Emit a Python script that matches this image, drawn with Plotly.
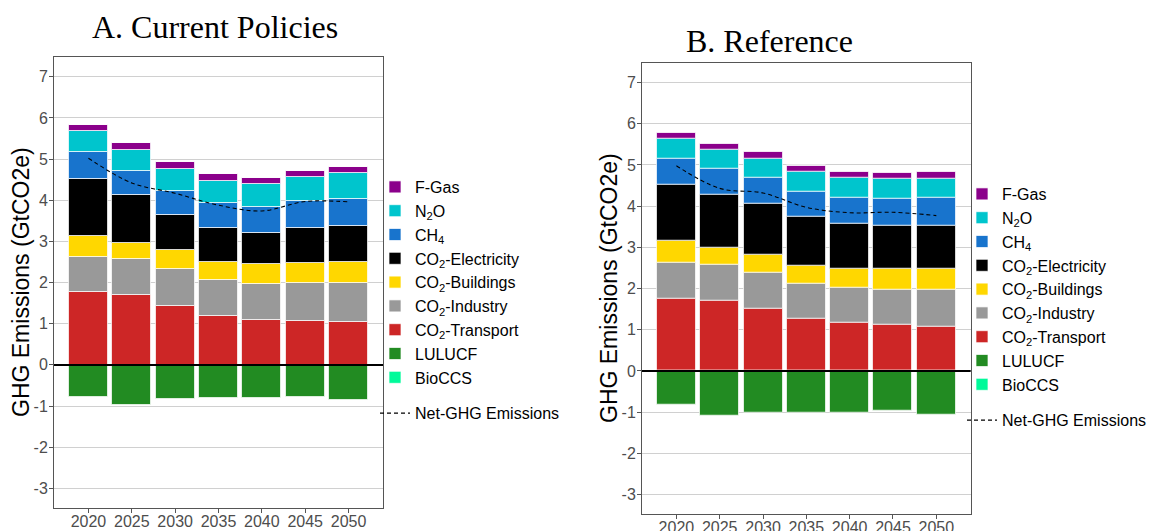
import plotly.graph_objects as go

years = [2020, 2025, 2030, 2035, 2040, 2045, 2050]
y_tickvals = [-3, -2, -1, 0, 1, 2, 3, 4, 5, 6, 7]
y_ticktext = ["-3", "-2", "-1", "0", "1", "2", "3", "4", "5", "6", "7"]

series_names = ["CO<sub>2</sub>-Transport", "CO<sub>2</sub>-Industry", "CO<sub>2</sub>-Buildings",
                "CO<sub>2</sub>-Electricity", "CH<sub>4</sub>", "N<sub>2</sub>O", "F-Gas",
                "LULUCF", "BioCCS"]
net_name = "Net-GHG Emissions"

# Panel A: Current Policies (GtCO2e)
a_transport = [1.76, 1.69, 1.44, 1.19, 1.08, 1.06, 1.04]
a_industry = [0.87, 0.88, 0.88, 0.87, 0.88, 0.92, 0.94]
a_buildings = [0.51, 0.40, 0.46, 0.44, 0.50, 0.50, 0.52]
a_electricity = [1.37, 1.16, 0.87, 0.83, 0.75, 0.85, 0.88]
a_ch4 = [0.67, 0.58, 0.57, 0.60, 0.62, 0.64, 0.65]
a_n2o = [0.50, 0.51, 0.54, 0.54, 0.56, 0.59, 0.62]
a_fgas = [0.16, 0.16, 0.16, 0.16, 0.16, 0.16, 0.16]
a_lulucf = [-0.79, -0.97, -0.82, -0.80, -0.80, -0.77, -0.85]
a_bioccs = [0, 0, 0, 0, 0, 0, 0]
a_net = [5.02, 4.42, 4.17, 3.88, 3.74, 3.97, 3.96]

# Panel B: Reference (GtCO2e)
b_transport = [1.76, 1.70, 1.50, 1.27, 1.17, 1.13, 1.08]
b_industry = [0.87, 0.87, 0.88, 0.85, 0.84, 0.85, 0.89]
b_buildings = [0.52, 0.42, 0.45, 0.44, 0.47, 0.49, 0.50]
b_electricity = [1.37, 1.29, 1.23, 1.18, 1.09, 1.06, 1.06]
b_ch4 = [0.63, 0.62, 0.63, 0.62, 0.64, 0.65, 0.68]
b_n2o = [0.48, 0.47, 0.47, 0.48, 0.47, 0.48, 0.46]
b_fgas = [0.14, 0.15, 0.16, 0.15, 0.16, 0.15, 0.17]
b_lulucf = [-0.81, -1.09, -1.02, -1.00, -1.00, -0.96, -1.07]
b_bioccs = [0, 0, 0, 0, 0, 0, 0]
b_net = [4.98, 4.43, 4.32, 3.97, 3.84, 3.85, 3.77]

colors = ["#CD2626", "#999999", "#FFD700", "#000000", "#1874CD", "#00C5CD", "#8B008B",
          "#228B22", "#00FA9A"]
ranks = [7, 6, 5, 4, 3, 2, 1, 8, 9]

SANS = "Liberation Sans, Arial, sans-serif"
SERIF = "Liberation Serif, Times New Roman, serif"

fig = go.Figure()

panels = [
    ("x", "y", "legend", [a_transport, a_industry, a_buildings, a_electricity, a_ch4, a_n2o,
                          a_fgas, a_lulucf, a_bioccs], a_net),
    ("x2", "y2", "legend2", [b_transport, b_industry, b_buildings, b_electricity, b_ch4, b_n2o,
                             b_fgas, b_lulucf, b_bioccs], b_net),
]

for xa, ya, leg, series, net in panels:
    for name, vals, col, rk in zip(series_names, series, colors, ranks):
        fig.add_trace(go.Bar(
            x=years, y=vals, name=name, xaxis=xa, yaxis=ya, legend=leg,
            marker=dict(color=col, line=dict(color="rgba(255,255,255,0.7)", width=1)),
            width=4.5, legendgroup="bars", legendrank=rk, hoverinfo="x+y+name",
        ))
    fig.add_trace(go.Scatter(
        x=years, y=net, name=net_name, xaxis=xa, yaxis=ya, legend=leg,
        mode="lines", line=dict(color="black", width=1.1, dash="4px,3px", shape="spline"),
        legendgroup="net", legendrank=10,
    ))

W, H = 1160, 531

def px_x(p):
    return p / W

def px_y(p):
    return 1 - p / H

axis_common = dict(
    showline=True, linecolor="#555555", linewidth=1, mirror=True,
    ticks="outside", ticklen=4, tickcolor="#555555",
    tickfont=dict(family=SANS, size=16, color="#4D4D4D"),
    showgrid=True, gridcolor="#D0D0D0", gridwidth=1, zeroline=False,
    automargin=False,
)

xcommon = dict(axis_common, range=[2016.03, 2053.97], tickvals=years, showgrid=False,
               ticklabelstandoff=-5)
ycommon = dict(axis_common, range=[-3.47, 7.48], tickvals=y_tickvals, ticktext=y_ticktext,
               ticklabelstandoff=-2)

fig.update_layout(
    width=W, height=H,
    margin=dict(l=0, r=0, t=0, b=0),
    paper_bgcolor="white", plot_bgcolor="white",
    barmode="relative", bargap=0,
    xaxis=dict(xcommon, domain=[px_x(54), px_x(383)], anchor="y"),
    yaxis=dict(ycommon, domain=[px_y(507.7), px_y(57)], anchor="x"),
    xaxis2=dict(xcommon, domain=[px_x(642), px_x(970.7)], anchor="y2"),
    yaxis2=dict(ycommon, domain=[px_y(514), px_y(62.7)], anchor="x2"),
    legend=dict(x=px_x(375), y=px_y(170), xanchor="left", yanchor="top",
                font=dict(family=SANS, size=16, color="black"),
                bgcolor="rgba(0,0,0,0)", tracegroupgap=12, traceorder="grouped"),
    legend2=dict(x=px_x(962), y=px_y(177), xanchor="left", yanchor="top",
                 font=dict(family=SANS, size=16, color="black"),
                 bgcolor="rgba(0,0,0,0)", tracegroupgap=12, traceorder="grouped"),
    showlegend=True,
    shapes=[
        dict(type="line", xref="x domain", yref="y", x0=0, x1=1, y0=0, y1=0,
             line=dict(color="black", width=2), layer="above"),
        dict(type="line", xref="x2 domain", yref="y2", x0=0, x1=1, y0=0, y1=0,
             line=dict(color="black", width=2), layer="above"),
    ],
    annotations=[
        dict(text="A. Current Policies", xref="paper", yref="paper",
             x=px_x(214.7), y=px_y(27), xanchor="center", yanchor="middle",
             showarrow=False, font=dict(family=SERIF, size=32, color="black")),
        dict(text="B. Reference", xref="paper", yref="paper",
             x=px_x(769), y=px_y(41), xanchor="center", yanchor="middle",
             showarrow=False, font=dict(family=SERIF, size=32, color="black")),
        dict(text="GHG Emissions (GtCO2e)", xref="paper", yref="paper",
             x=px_x(21), y=px_y(282), xanchor="center", yanchor="middle", textangle=-90,
             showarrow=False, font=dict(family=SANS, size=23, color="black")),
        dict(text="GHG Emissions (GtCO2e)", xref="paper", yref="paper",
             x=px_x(609), y=px_y(288), xanchor="center", yanchor="middle", textangle=-90,
             showarrow=False, font=dict(family=SANS, size=23, color="black")),
    ],
)

fig.write_html(
    "out.html",
    config={"displayModeBar": False},
    post_script="document.body.style.margin='0';document.body.style.padding='0';",
)
